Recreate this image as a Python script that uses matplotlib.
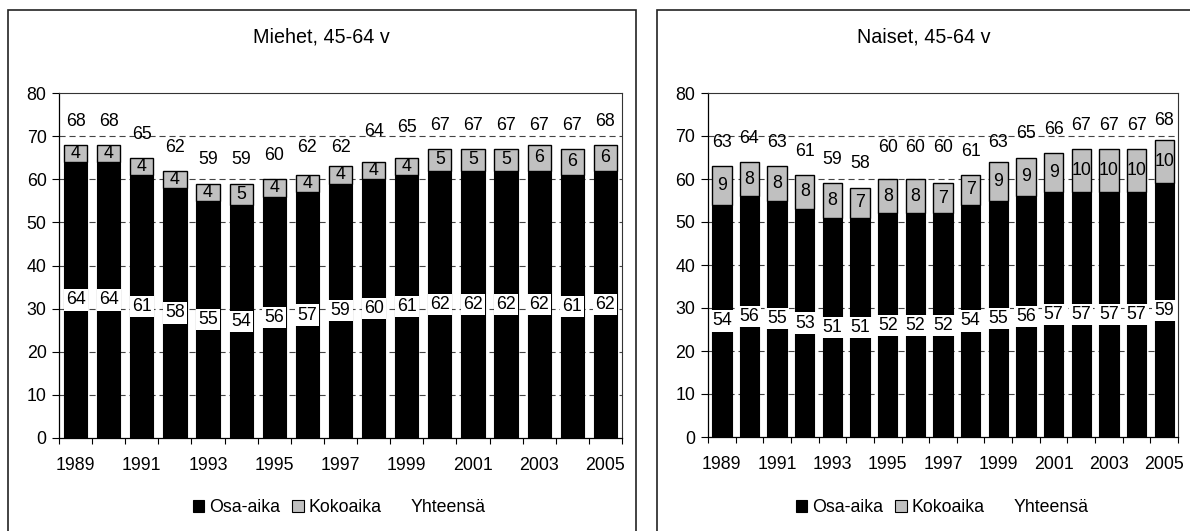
import numpy as np
import matplotlib
matplotlib.use("Agg")
import matplotlib.pyplot as plt
from matplotlib.patches import Rectangle, Patch

plt.rcParams["font.family"] = ["Liberation Sans", "DejaVu Sans"]
plt.rcParams["font.size"] = 13

# ─────────────────────────────────────────
# DATA
# ─────────────────────────────────────────
years = list(range(1989, 2006))

men_part = [64, 64, 61, 58, 55, 54, 56, 57, 59, 60, 61, 62, 62, 62, 62, 61, 62]
men_full = [4, 4, 4, 4, 4, 5, 4, 4, 4, 4, 4, 5, 5, 5, 6, 6, 6]
men_total = [68, 68, 65, 62, 59, 59, 60, 62, 62, 64, 65, 67, 67, 67, 67, 67, 68]

women_part = [54, 56, 55, 53, 51, 51, 52, 52, 52, 54, 55, 56, 57, 57, 57, 57, 59]
women_full = [9, 8, 8, 8, 8, 7, 8, 8, 7, 7, 9, 9, 9, 10, 10, 10, 10]
women_total = [63, 64, 63, 61, 59, 58, 60, 60, 60, 61, 63, 65, 66, 67, 67, 67, 68]

# total labels that were lifted off the dashed line (extra points)
men_lift = [0, 0, 0, 0, 0, 0, 0, 0, 0, 5, 5, 0, 0, 0, 0, 0, 0]
women_lift = [0, 0, 0, 0, 0, 0, 6, 6, 6, 0, 0, 0, 0, 0, 0, 0, 0]

legend_labels = ["Osa-aika", "Kokoaika", "Yhteensä"]
GRAY = "#C0C0C0"
FS = 12.8

W, H = 1190, 531
fig = plt.figure(figsize=(W / 100, H / 100), dpi=100)


def px_box(left, top, right, bottom):
    return [left / W, 1 - bottom / H, (right - left) / W, (bottom - top) / H]


# panel frames
fig.add_artist(Rectangle((8 / W, -0.1), 628 / W, 1.1 - 10 / H, transform=fig.transFigure,
                         fill=False, ec="#222222", lw=1.2))
fig.add_artist(Rectangle((657 / W, -0.1), 600 / W, 1.1 - 10 / H, transform=fig.transFigure,
                         fill=False, ec="#222222", lw=1.2))


def draw_panel(rect, part, full, total, lift, title, title_x, legend_x):
    ax = fig.add_axes(rect)
    x = np.arange(len(years))
    width = 0.7

    # gridlines (dashed) behind bars
    for yv in range(10, 80, 10):
        ax.axhline(yv, color="#444444", lw=0.8, dashes=(5.5, 3.5), zorder=0)

    ax.bar(x, part, width, color="black", edgecolor="black", lw=0.8, zorder=2)
    ax.bar(x, full, width, bottom=part, color=GRAY, edgecolor="black", lw=1.0, zorder=2)

    for i in range(len(years)):
        ax.text(x[i], part[i] / 2, str(part[i]), ha="center", va="center", fontsize=FS,
                bbox=dict(boxstyle="square,pad=0.12", fc="white", ec="none"), zorder=4)
        ax.text(x[i], part[i] + full[i] / 2, str(full[i]), ha="center", va="center",
                fontsize=FS, zorder=4)
        ax.annotate(str(total[i]), (x[i], total[i]), xytext=(0, 17 + lift[i]),
                    textcoords="offset points", ha="center", va="center", fontsize=FS, zorder=4)

    ax.set_xlim(-0.5, len(years) - 0.5)
    ax.set_ylim(0, 80)
    ax.set_yticks(range(0, 81, 10))
    ax.tick_params(axis="y", direction="out", length=5, width=0.8, pad=4, labelsize=FS)

    ax.set_xticks(x[::2])
    ax.set_xticklabels([str(y) for y in years[::2]])
    ax.set_xticks(np.arange(-0.5, len(years), 1.0), minor=True)
    ax.tick_params(axis="x", which="major", length=0, pad=14, labelsize=FS)
    ax.tick_params(axis="x", which="minor", direction="out", length=4.5, width=0.8)

    for s in ["left", "bottom"]:
        ax.spines[s].set_color("black")
        ax.spines[s].set_linewidth(0.9)
    for s in ["top", "right"]:
        ax.spines[s].set_color("#333333")
        ax.spines[s].set_linewidth(0.8)

    fig.text(title_x, 1 - 37 / H, title, ha="center", va="center", fontsize=14.2)

    handles = [Patch(fc="black", ec="black", lw=0.8),
               Patch(fc=GRAY, ec="black", lw=0.8),
               Patch(fc="none", ec="none")]
    fig.legend(handles, legend_labels, loc="center", bbox_to_anchor=(legend_x, 1 - 508 / H),
               ncol=3, frameon=False, fontsize=FS, handlelength=0.65, handleheight=0.65,
               handletextpad=0.3, columnspacing=0.65, borderaxespad=0, borderpad=0)
    return ax


draw_panel(px_box(59, 93, 622, 438), men_part, men_full, men_total, men_lift,
           "Miehet, 45-64 v", 321 / W, 339 / W)
draw_panel(px_box(708, 93, 1178, 437), women_part, women_full, women_total, women_lift,
           "Naiset, 45-64 v", 924 / W, 942 / W)

plt.savefig("out.png", dpi=100)
